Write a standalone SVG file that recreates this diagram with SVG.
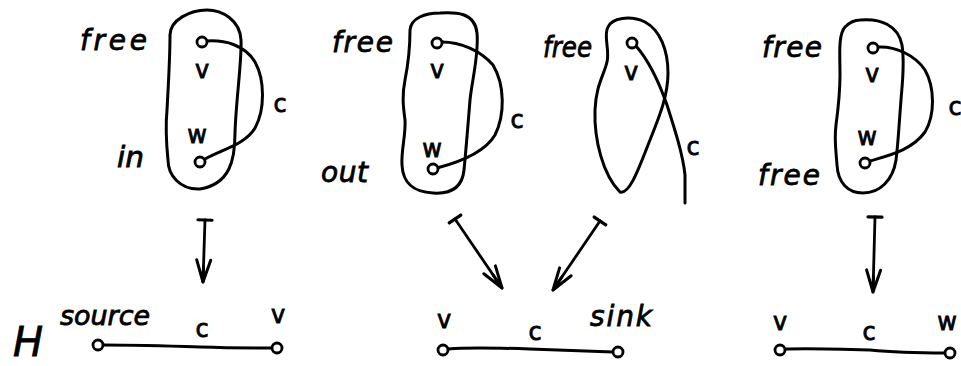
<svg xmlns="http://www.w3.org/2000/svg" width="961" height="366" viewBox="0 0 961 366">
<style>
  .ln { fill: none; stroke: #000; stroke-width: 3; stroke-linecap: round; stroke-linejoin: round; }
  .nd { fill: #fff; stroke: #000; stroke-width: 2.8; }
  .lbl { font-family: "DejaVu Sans", "Liberation Sans", sans-serif; font-size: 24px; fill: #000; stroke: #000; stroke-width: 0.8; text-anchor: middle; }
  .wd { font-family: "DejaVu Sans", "Liberation Sans", sans-serif; font-size: 28px; font-style: italic; fill: #000; stroke: #000; stroke-width: 0.8; }
  .ar { fill: none; stroke: #000; stroke-width: 2.8; stroke-linecap: round; }
</style>
<defs>
  <marker id="tbar" markerUnits="userSpaceOnUse" markerWidth="20" markerHeight="20" viewBox="-10 -10 20 20" refX="0" refY="0" orient="auto">
    <path d="M0,-7 L0,7" stroke="#000" stroke-width="3.2" fill="none" stroke-linecap="round"/>
  </marker>
  <marker id="head" markerUnits="userSpaceOnUse" markerWidth="30" markerHeight="30" viewBox="-26 -13 30 26" refX="0" refY="0" orient="auto">
    <path d="M0,0 L-22,-7 M0,0 L-22,7 M0,0 L-16,0" stroke="#000" stroke-width="3" fill="none" stroke-linecap="round"/>
  </marker>
</defs>

<!-- Panel 1: free / in -->
<g id="panel1">
  <path class="ln" d="M207,10 C222,10 240,20 241,40 C242,60 236,100 235,133 C235,160 230,184 200,189 C180,190 168,175 168,160 C166,140 166,120 167,110 C168,90 170,60 170,35 C170,20 190,10 207,10 Z"/>
  <path class="ln" d="M207,41 C225,40 245,45 255,62 C265,80 265,110 255,128 C245,145 220,150 205,159"/>
  <circle class="nd" cx="202" cy="42" r="5"/>
  <circle class="nd" cx="200" cy="162" r="5"/>
  <text class="lbl" x="202" y="78">v</text>
  <text class="lbl" x="197" y="143">w</text>
  <text class="lbl" x="280" y="112">c</text>
  <text class="wd" x="80" y="50" textLength="67" lengthAdjust="spacing">free</text>
  <text class="wd" x="117" y="167" textLength="27" lengthAdjust="spacingAndGlyphs">in</text>
</g>

<!-- Panel 2: free / out -->
<g id="panel2">
  <path class="ln" d="M440,13 C455,12 475,12 477,33 C479,55 472,80 470,100 C468,125 466,150 464,170 C462,190 448,194 433,193 C415,192 403,185 402,165 C401,150 406,135 405,120 C403,105 402,95 405,80 C408,65 410,45 410,30 C411,18 425,13 440,13 Z"/>
  <path class="ln" d="M442,42 C460,42 480,50 493,65 C505,85 505,115 495,135 C485,152 460,162 437,168"/>
  <circle class="nd" cx="437" cy="43" r="5"/>
  <circle class="nd" cx="433" cy="169" r="5"/>
  <text class="lbl" x="437" y="78">v</text>
  <text class="lbl" x="432" y="157">w</text>
  <text class="lbl" x="517" y="128">c</text>
  <text class="wd" x="332" y="52" textLength="61" lengthAdjust="spacing">free</text>
  <text class="wd" x="321" y="182" textLength="47" lengthAdjust="spacing">out</text>
</g>

<!-- Panel 3: free, c leaves -->
<g id="panel3">
  <path class="ln" d="M608,27 C603,35 610,50 607,62 C604,75 596,85 595,110 C594,140 603,175 620,192 C630,195 640,165 650,140 C660,115 668,95 668,73 C668,50 660,30 645,22 C630,15 612,18 608,27 Z"/>
  <path class="ln" d="M636,46 C650,62 660,85 667,105 C675,130 683,155 685,175 L685,203"/>
  <circle class="nd" cx="632" cy="43" r="5"/>
  <text class="lbl" x="631" y="80">v</text>
  <text class="lbl" x="693" y="155">c</text>
  <text class="wd" x="543" y="57" textLength="49" lengthAdjust="spacingAndGlyphs">free</text>
</g>

<!-- Panel 4: free / free -->
<g id="panel4">
  <path class="ln" d="M860,20 C880,18 898,25 902,45 C905,65 902,85 901,100 C899,125 898,145 896,160 C893,180 880,193 863,193 C848,193 838,183 837,165 C836,150 834,140 836,125 C838,110 840,95 840,75 C840,55 838,35 845,27 C850,22 855,20 860,20 Z"/>
  <path class="ln" d="M878,47 C895,46 915,55 925,70 C935,88 935,115 925,132 C912,150 890,155 870,161"/>
  <circle class="nd" cx="873" cy="48" r="5"/>
  <circle class="nd" cx="865" cy="163" r="5"/>
  <text class="lbl" x="872" y="82">v</text>
  <text class="lbl" x="867" y="145">w</text>
  <text class="lbl" x="955" y="115">c</text>
  <text class="wd" x="762" y="57" textLength="60" lengthAdjust="spacing">free</text>
  <text class="wd" x="758" y="185" textLength="62" lengthAdjust="spacing">free</text>
</g>

<!-- Bottom graphs H -->
<g id="H1">
  <path class="ln" d="M103,345 C140,345 170,346 200,347 C230,348 250,348 272,348"/>
  <circle class="nd" cx="98" cy="345" r="5"/>
  <circle class="nd" cx="277" cy="348" r="5"/>
  <text class="wd" x="60" y="325" textLength="90" lengthAdjust="spacingAndGlyphs" style="font-size:26px">source</text>
  <text class="lbl" x="202" y="337">c</text>
  <text class="lbl" x="278" y="323">v</text>
  <text class="wd" x="13" y="356" style="font-size:40px">H</text>
</g>

<g id="H2">
  <path class="ln" d="M448,349 C470,347 500,348 530,349 C560,350 590,351 613,352"/>
  <circle class="nd" cx="443" cy="350" r="5"/>
  <circle class="nd" cx="618" cy="352" r="5"/>
  <text class="lbl" x="444" y="328">v</text>
  <text class="lbl" x="535" y="340">c</text>
  <text class="wd" x="590" y="326" textLength="62" lengthAdjust="spacing">sink</text>
</g>

<g id="H3">
  <path class="ln" d="M785,349 C810,348 840,349 870,350 C900,353 925,353 945,353"/>
  <circle class="nd" cx="780" cy="350" r="5"/>
  <circle class="nd" cx="950" cy="353" r="5"/>
  <text class="lbl" x="780" y="330">v</text>
  <text class="lbl" x="869" y="340">c</text>
  <text class="lbl" x="947" y="330">w</text>
</g>

<!-- Connectors: maps-to arrows -->
<g id="connectors">
  <path class="ar" d="M205,220 L203,282" marker-start="url(#tbar)" marker-end="url(#head)"/>
  <path class="ar" d="M455,219 L502,288" marker-start="url(#tbar)" marker-end="url(#head)"/>
  <path class="ar" d="M600,221 L553,290" marker-start="url(#tbar)" marker-end="url(#head)"/>
  <path class="ar" d="M875,217 L873,292" marker-start="url(#tbar)" marker-end="url(#head)"/>
</g>
</svg>
